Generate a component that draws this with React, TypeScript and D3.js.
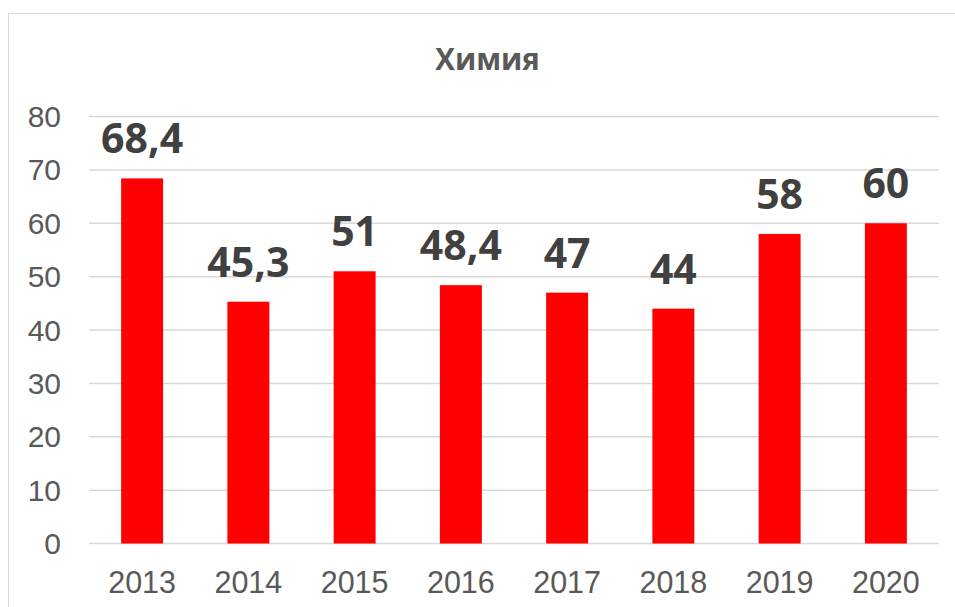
import React from "react";
import * as d3 from "d3";

const years = ["2013", "2014", "2015", "2016", "2017", "2018", "2019", "2020"];
const values = [68.4, 45.3, 51, 48.4, 47, 44, 58, 60];
const yTicks = [0, 10, 20, 30, 40, 50, 60, 70, 80];

const W = 955;
const H = 607;
const margin = { top: 116.5, right: 16, bottom: 63.5, left: 89 };

const fmt = (v: number) => String(v).replace(".", ",");

const App = () => {
  const x = d3
    .scaleBand()
    .domain(years)
    .range([margin.left, W - margin.right])
    .paddingInner(0.605)
    .paddingOuter(0.3025);
  const y = d3
    .scaleLinear()
    .domain([0, 80])
    .range([H - margin.bottom, margin.top]);

  const axisFont = "'Liberation Sans', Arial, sans-serif";
  const labelFont = "'Open Sans', 'Noto Sans', sans-serif";

  return (
    <div style={{ position: "fixed", left: 0, top: 0 }}>
      <svg width={W} height={H} style={{ display: "block", background: "#fff" }}>
        {/* chart frame, only left & top edges are visible */}
        <rect x={8.5} y={13.5} width={W + 20} height={H + 20} fill="#fff" stroke="#d9d9d9" />

        <text
          x={487.5}
          y={70}
          textAnchor="middle"
          fontFamily={labelFont}
          fontWeight="bold"
          fontSize={29.5}
          fill="#595959"
        >
          Химия
        </text>

        {yTicks.map((t) => (
          <g key={t}>
            <line
              x1={margin.left}
              x2={W - margin.right}
              y1={y(t)}
              y2={y(t)}
              stroke="#d9d9d9"
              strokeWidth={1.5}
            />
            <text
              x={61}
              y={y(t)}
              textAnchor="end"
              dominantBaseline="central"
              fontFamily={axisFont}
              fontSize={30}
              fill="#595959"
            >
              {t}
            </text>
          </g>
        ))}

        {years.map((yr, i) => (
          <g key={yr}>
            <rect
              x={x(yr)}
              y={y(values[i])}
              width={x.bandwidth()}
              height={y(0) - y(values[i])}
              fill="#ff0000"
            />
            <text
              x={(x(yr) as number) + x.bandwidth() / 2}
              y={y(values[i]) - 25}
              textAnchor="middle"
              fontFamily={labelFont}
              fontWeight="bold"
              fontSize={41}
              fill="#404040"
            >
              {fmt(values[i])}
            </text>
            <text
              x={(x(yr) as number) + x.bandwidth() / 2}
              y={593}
              textAnchor="middle"
              fontFamily={axisFont}
              fontSize={30.5}
              fill="#595959"
            >
              {yr}
            </text>
          </g>
        ))}
      </svg>
    </div>
  );
};

export default App;
